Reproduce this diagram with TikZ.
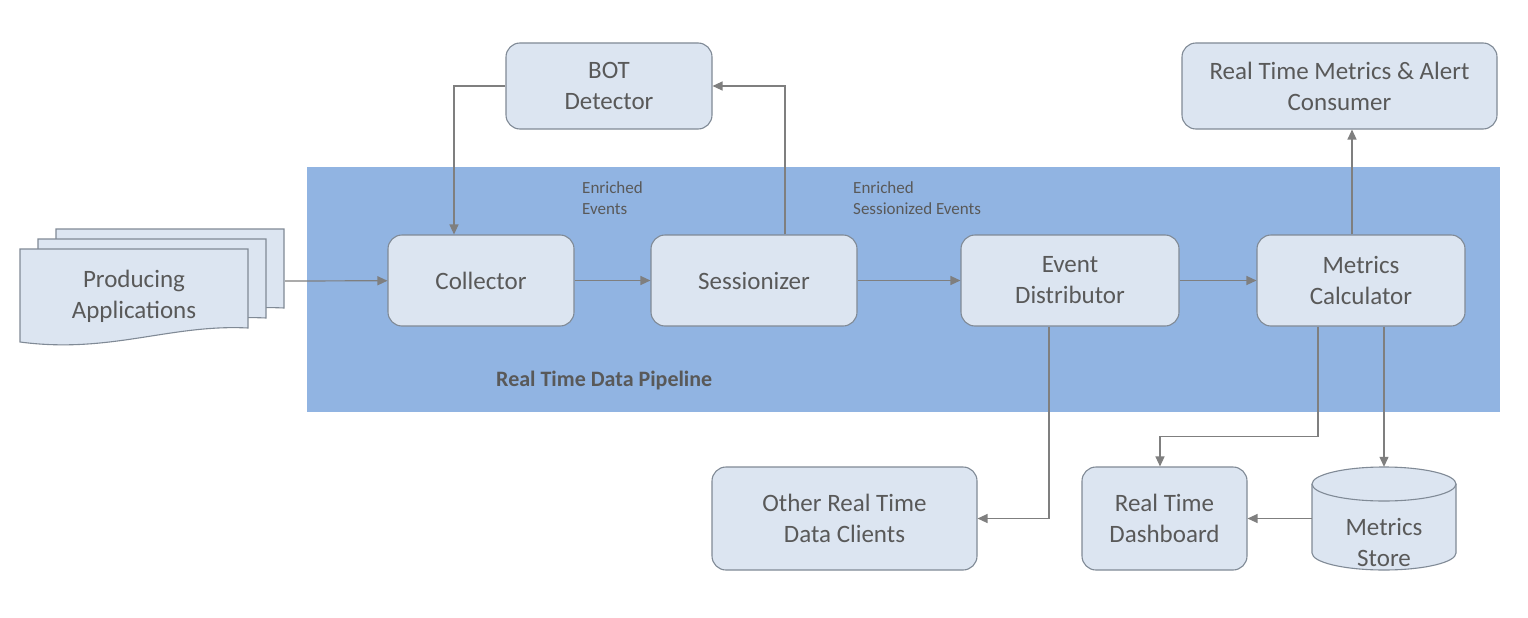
\documentclass[tikz,border=0pt]{standalone}
\usepackage{fontspec}
\setmainfont{Carlito}
\usepackage{tikz}
\usetikzlibrary{shapes, arrows.meta, positioning}
\definecolor{pipeblue}{RGB}{145,180,226}
\definecolor{boxfill}{RGB}{220,229,241}
\definecolor{boxline}{RGB}{128,138,150}
\definecolor{textgray}{RGB}{89,89,89}
\definecolor{linegray}{RGB}{127,127,127}
\tikzstyle{box} = [rectangle, rounded corners=14pt, draw=boxline, line width=1.1pt, fill=boxfill, text=textgray, align=center, inner sep=0pt, font=\fontsize{25}{31}\selectfont]
\tikzstyle{db} = [rectangle, inner sep=0pt]
\tikzstyle{dbtext} = [text=textgray, align=center, inner sep=0pt, yshift=-24pt, font=\fontsize{25}{31}\selectfont]
\tikzstyle{sheet} = [draw=boxline, line width=1.1pt, fill=boxfill]
\tikzstyle{note} = [anchor=north west, align=left, inner sep=0pt, text=textgray, font=\fontsize{17}{21}\selectfont]
\tikzstyle{arrow} = [-{Triangle[length=10pt, width=9pt]}, draw=linegray, line width=1.2pt]

\begin{document}
\begin{tikzpicture}[x=1pt, y=-1pt]

    \useasboundingbox (0, 0) rectangle (1528, 618);
    \fill [white] (0, 0) rectangle (1528, 618);

    % pipeline band
    \fill [pipeblue] (307, 167) rectangle (1500, 412);
    \node (pipe) [anchor=west, inner sep=0pt, text=textgray, font=\fontsize{22}{26}\selectfont\bfseries] at (496, 381) {Real Time Data Pipeline};

    % stacked documents
    \foreach \dx/\dy in {36/-20, 18/-10, 0/0} {
        \draw [sheet] (20+\dx, 249+\dy) -- (248+\dx, 249+\dy) -- (248+\dx, 328+\dy)
            .. controls (170+\dx, 324+\dy) and (110+\dx, 354+\dy) .. (20+\dx, 342+\dy) -- cycle;
    }
    \node (apps) [text=textgray, align=center, font=\fontsize{25}{31}\selectfont] at (134, 296) {Producing\\Applications};
    \coordinate (appsout) at (285, 281);

    % database drum
    \draw [sheet] (1312, 484) -- (1312, 553) .. controls (1312, 562.4) and (1344.2, 570) .. (1384, 570)
        .. controls (1423.8, 570) and (1456, 562.4) .. (1456, 553) -- (1456, 484);
    \draw [sheet] (1384, 484) ellipse [x radius=72, y radius=17];

    \node (bot) [box, minimum width=206pt, minimum height=86pt] at (609, 86) {BOT\\Detector};
    \node (alert) [box, minimum width=315pt, minimum height=86pt] at (1339.5, 86) {Real Time Metrics \& Alert\\Consumer};

    \node (collector) [box, minimum width=186pt, minimum height=91pt] at (481, 280.5) {Collector};
    \node (sess) [box, minimum width=206pt, minimum height=91pt] at (754, 280.5) {Sessionizer};
    \node (dist) [box, minimum width=218pt, minimum height=91pt] at (1070, 280.5) {Event\\Distributor};
    \node (calc) [box, minimum width=208pt, minimum height=91pt] at (1361, 280.5) {Metrics\\Calculator};

    \node (other) [box, minimum width=265pt, minimum height=103pt] at (844.5, 518.5) {Other Real Time\\Data Clients};
    \node (dash) [box, minimum width=165pt, minimum height=103pt] at (1164.5, 518.5) {Real Time\\Dashboard};
    \node (store) [db, minimum width=144pt, minimum height=103pt, label={[dbtext]center:{Metrics\\Store}}] at (1384, 518.5) {};

    \node (enr) [note] at (582, 181) {Enriched\\Events};
    \node (enrsess) [note] at (853, 181) {Enriched\\Sessionized Events};

    \draw [arrow] (appsout) -- (collector);
    \draw [arrow] (collector) -- (sess);
    \draw [arrow] (sess) -- (dist);
    \draw [arrow] (dist) -- (calc);

    \draw [arrow] ([xshift=31pt]sess.north) |- (bot);
    \draw [arrow] (bot) -| ([xshift=-27pt]collector.north);
    \draw [arrow] ([xshift=-9pt]calc.north) -- ([xshift=-9pt]calc.north |- alert.south);

    \draw [arrow] ([xshift=-21pt]dist.south) |- (other);
    \draw [arrow] ([xshift=-43pt]calc.south) -- ++(0, 110) -| ([xshift=-4.5pt]dash.north);
    \draw [arrow] (calc.south -| store.north) -- (store.north);
    \draw [arrow] (store) -- (dash);

\end{tikzpicture}
\end{document}
